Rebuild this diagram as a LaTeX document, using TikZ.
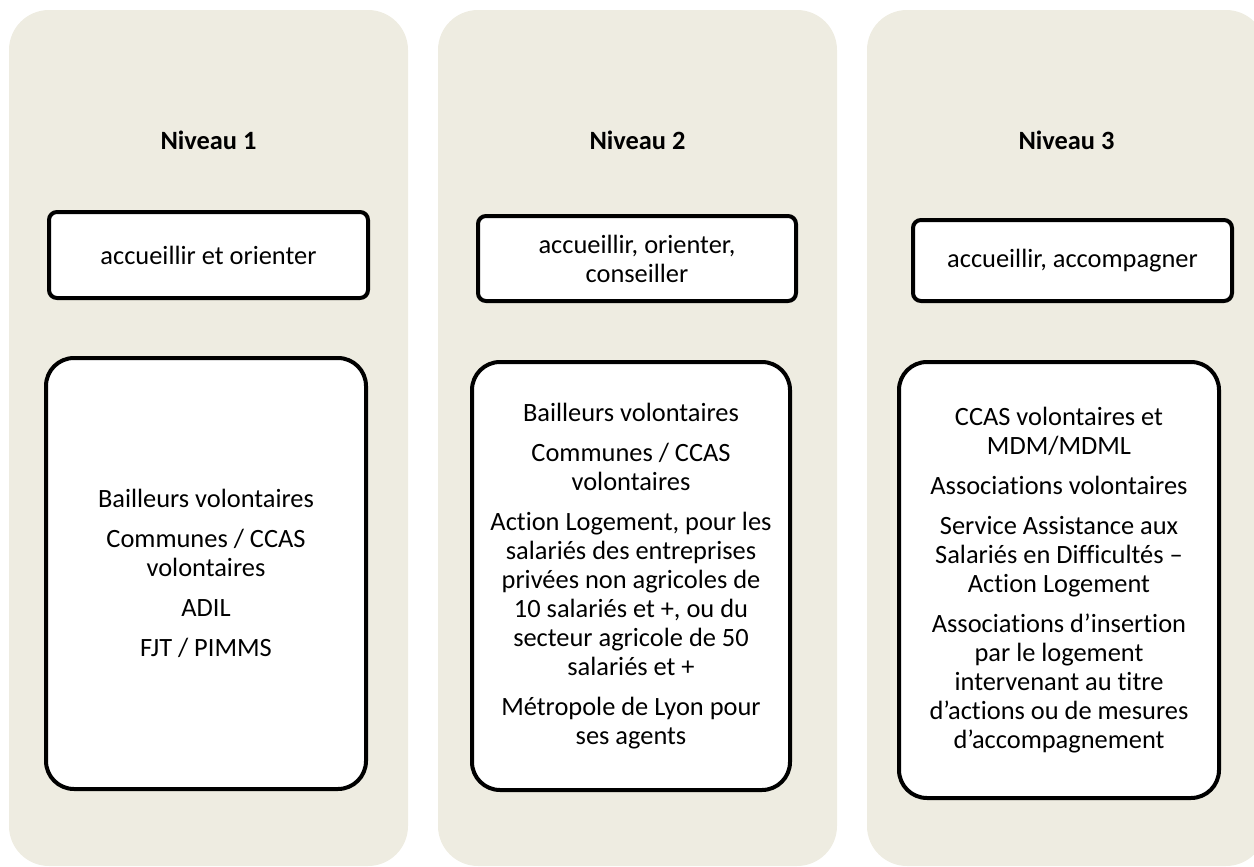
\documentclass[tikz,border=0pt]{standalone}
\usepackage{fontspec}
\setmainfont{Carlito}[RawFeature={-liga;-clig;-calt}]
\usetikzlibrary{positioning}
\usetikzlibrary{calc}

\definecolor{colbg}{HTML}{EEECE1}

\tikzset{
    column/.style={fill=colbg, rounded corners=20pt},
    levelhead/.style={font=\fontsize{13.2}{14.5}\selectfont\bfseries},
    rolebox/.style={draw, line width=2pt, fill=white, rounded corners=4pt, align=center, inner sep=0pt, font=\fontsize{13.2}{14.5}\selectfont},
    actorbox/.style={draw, line width=2pt, fill=white, rounded corners=14pt, align=center, inner sep=0pt, font=\fontsize{13.2}{14.5}\selectfont},
}
\newcommand{\pargap}{\\[5.5pt]}

\begin{document}
\begin{tikzpicture}[x=0.5pt, y=-0.5pt]
    \useasboundingbox (0,0) rectangle (1254,867);
    \clip (0,0) rectangle (1254,867);

    % columns
    \path[column] (9,10) rectangle (408,866);
    \path[column] (438,10) rectangle (837,866);
    \path[column] (867,10) rectangle (1266,866);

    \node[levelhead] (head1) at (208.5,140) {Niveau 1};
    \node[levelhead] (head2) at (637.5,140) {Niveau 2};
    \node[levelhead] (head3) at (1066.5,140) {Niveau 3};

    % missions
    \node[rolebox, minimum width=159.5pt, minimum height=43pt] (role1) at (208.5,255) {accueillir et orienter};
    \node[rolebox, minimum width=159pt, minimum height=42.5pt] (role2) at (637,258.5) {accueillir, orienter,\\conseiller};
    \node[rolebox, minimum width=159.5pt, minimum height=40.5pt] (role3) at (1072.5,260.5) {accueillir, accompagner};

    % acteurs
    \node[actorbox, minimum width=160pt, minimum height=215.5pt] (actors1) at (206,573.5) {%
        Bailleurs volontaires\pargap
        Communes / CCAS\\volontaires\pargap
        ADIL\pargap
        FJT / PIMMS};
    \node[actorbox, minimum width=159pt, minimum height=214pt] (actors2) at (631,576) {%
        Bailleurs volontaires\pargap
        Communes / CCAS\\volontaires\pargap
        Action Logement, pour les\\salariés des entreprises\\privées non agricoles de\\10 salariés et +, ou du\\secteur agricole de 50\\salariés et +\pargap
        Métropole de Lyon pour\\ses agents};
    \node[actorbox, minimum width=160pt, minimum height=218pt] (actors3) at (1059,580) {%
        CCAS volontaires et\\MDM/MDML\pargap
        Associations volontaires\pargap
        Service Assistance aux\\Salariés en Difficultés –\\Action Logement\pargap
        Associations d’insertion\\par le logement\\intervenant au titre\\d’actions ou de mesures\\d’accompagnement};
\end{tikzpicture}
\end{document}
